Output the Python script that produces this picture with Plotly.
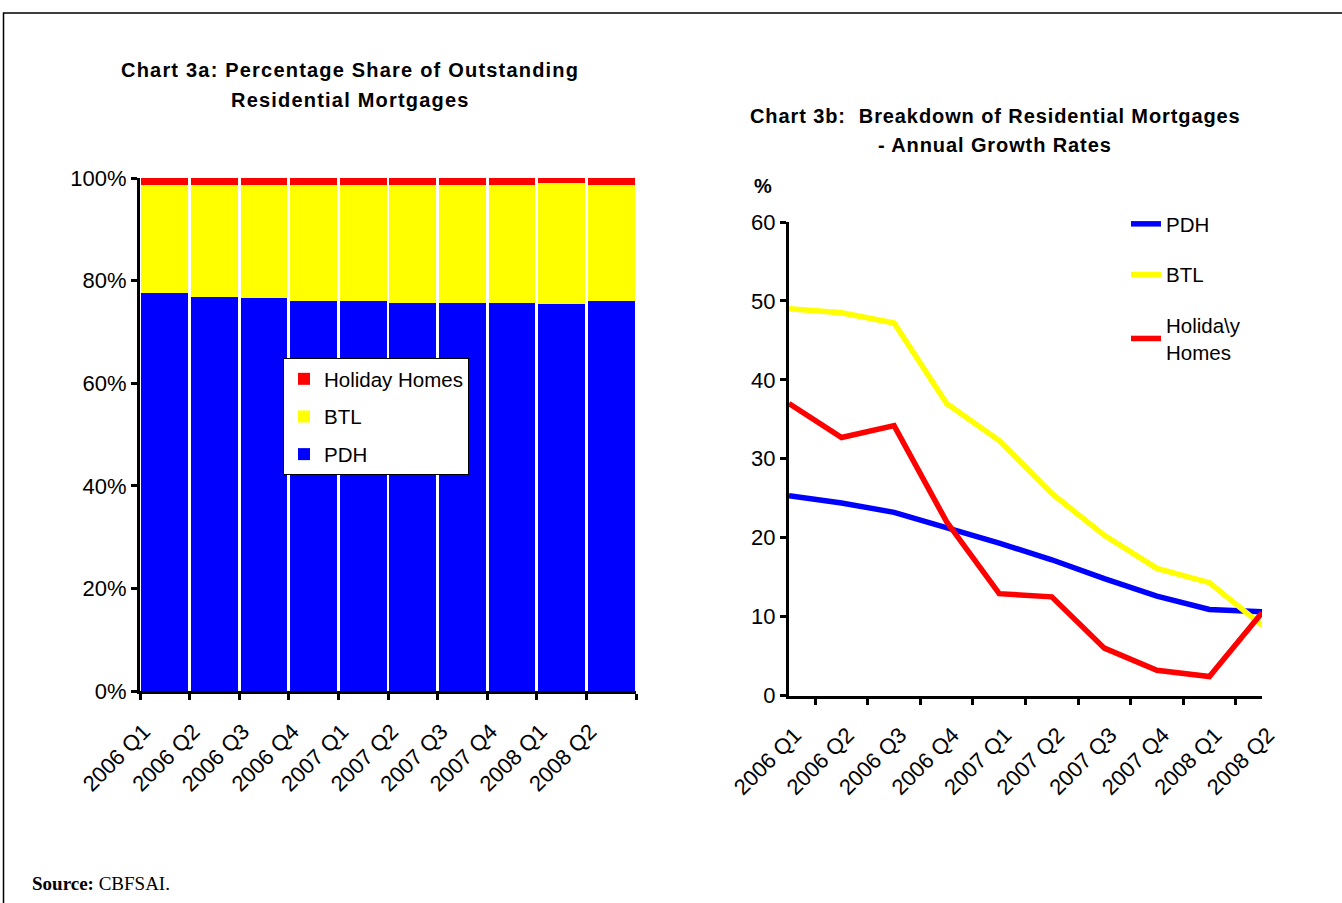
import plotly.graph_objects as go

W, H = 1342, 903

quarters = ["2006 Q1", "2006 Q2", "2006 Q3", "2006 Q4", "2007 Q1",
            "2007 Q2", "2007 Q3", "2007 Q4", "2008 Q1", "2008 Q2"]

# Chart 3a: share of outstanding residential mortgages (%)
share_pdh = [77.6, 76.8, 76.6, 76.0, 76.0, 75.6, 75.6, 75.6, 75.4, 76.0]
share_btl = [21.0, 21.8, 22.0, 22.6, 22.6, 23.0, 23.0, 23.0, 23.6, 22.6]
share_hh = [1.4, 1.4, 1.4, 1.4, 1.4, 1.4, 1.4, 1.4, 1.0, 1.4]
share_ticks = [0, 20, 40, 60, 80, 100]
share_ticktext = ["0%", "20%", "40%", "60%", "80%", "100%"]

# Chart 3b: annual growth rates (%)
growth_pdh = [25.3, 24.4, 23.2, 21.3, 19.3, 17.2, 14.8, 12.6, 10.9, 10.6]
growth_btl = [49.0, 48.5, 47.2, 37.0, 32.3, 25.6, 20.3, 16.1, 14.3, 8.9]
growth_hh = [37.0, 32.7, 34.2, 22.0, 12.9, 12.5, 6.0, 3.2, 2.4, 10.5]

BLUE, YELLOW, RED = "#0000FF", "#FFFF00", "#FF0000"
FONT = "Liberation Sans, Arial, sans-serif"


def px_x(p):
    return p / W


def px_y(p):
    return 1 - p / H


fig = go.Figure()

# stacked bars (left panel); legend lists them top-down
for name, vals, col, rank in [("PDH", share_pdh, BLUE, 3),
                              ("BTL", share_btl, YELLOW, 2),
                              ("Holiday Homes", share_hh, RED, 1)]:
    fig.add_trace(go.Bar(x=quarters, y=vals, name=name, marker_color=col,
                         marker_line_width=0, xaxis="x", yaxis="y",
                         legend="legend", legendgroup=name, legendrank=rank))

# growth lines (right panel)
for name, vals, col in [("PDH", growth_pdh, BLUE),
                        ("BTL", growth_btl, YELLOW),
                        ("Holida\\y<br>Homes", growth_hh, RED)]:
    fig.add_trace(go.Scatter(x=quarters, y=vals, name=name, mode="lines",
                             line=dict(color=col, width=5.5),
                             xaxis="x2", yaxis="y2",
                             legend="legend2", legendgroup="g" + name))

axis_common = dict(showline=True, linecolor="black", linewidth=3,
                   ticks="outside", tickcolor="black", tickwidth=3,
                   ticklen=6, showgrid=False, zeroline=False,
                   automargin=False,
                   tickfont=dict(family=FONT, size=22, color="black"))

fig.update_layout(
    template="none",
    width=W, height=H,
    margin=dict(l=0, r=0, t=0, b=0, pad=0, autoexpand=False),
    paper_bgcolor="white", plot_bgcolor="white",
    barmode="stack", bargap=0.06,
    font=dict(family=FONT, color="black"),
    xaxis=dict(domain=[px_x(140), px_x(636)], anchor="y",
               type="category", tickson="boundaries", tickangle=-45,
               ticklabelshift=-21, ticklabelstandoff=16, **axis_common),
    yaxis=dict(domain=[px_y(691), px_y(178)], anchor="x",
               range=[0, 100], tickvals=share_ticks, ticktext=share_ticktext,
               **axis_common),
    xaxis2=dict(domain=[px_x(789), px_x(1262)], anchor="y2",
                type="category", tickson="boundaries", tickangle=-45,
                ticklabelshift=6, ticklabelstandoff=15, **axis_common),
    yaxis2=dict(domain=[px_y(695.5), px_y(222)], anchor="x2",
                range=[0, 60], dtick=10, **axis_common),
    legend=dict(x=px_x(283), y=px_y(358), xanchor="left", yanchor="top",
                bgcolor="white", bordercolor="black", borderwidth=1,
                traceorder="grouped", tracegroupgap=8,
                font=dict(family=FONT, size=20.5)),
    legend2=dict(x=px_x(1126), y=px_y(204), xanchor="left", yanchor="top",
                 bgcolor="rgba(0,0,0,0)", borderwidth=0,
                 traceorder="grouped", tracegroupgap=21,
                 font=dict(family=FONT, size=20.5)),
    showlegend=True,
)

TITLE_A = "<span style='letter-spacing:1.2px'><b>%s</b></span>"
TITLE_B = "<span style='letter-spacing:0.9px'><b>%s</b></span>"
annotations = [
    dict(x=px_x(350), y=px_y(70),
         text=TITLE_A % "Chart 3a: Percentage Share of Outstanding",
         font=dict(family=FONT, size=20)),
    dict(x=px_x(350), y=px_y(100),
         text=TITLE_A % "Residential Mortgages",
         font=dict(family=FONT, size=20)),
    dict(x=px_x(748), y=px_y(116), xanchor="left",
         text=TITLE_B % "Chart 3b:  Breakdown of Residential Mortgages",
         font=dict(family=FONT, size=20)),
    dict(x=px_x(995), y=px_y(145),
         text=TITLE_B % "- Annual Growth Rates",
         font=dict(family=FONT, size=20)),
    dict(x=px_x(763), y=px_y(186), text="<b>%</b>", font=dict(family=FONT, size=20)),
    dict(x=px_x(30), y=px_y(883), xanchor="left",
         text="<b>Source:</b> CBFSAI.",
         font=dict(family="Liberation Serif, Times New Roman, serif", size=19)),
]
for a in annotations:
    a.setdefault("xref", "paper")
    a.setdefault("yref", "paper")
    a.setdefault("showarrow", False)
    a.setdefault("xanchor", "center")
    a.setdefault("yanchor", "middle")
fig.update_layout(annotations=annotations)

# outer frame
fig.add_shape(type="rect", xref="paper", yref="paper",
              x0=px_x(3.5), x1=px_x(1360), y0=px_y(920), y1=px_y(13),
              line=dict(color="black", width=1.5), fillcolor="rgba(0,0,0,0)")

fig.write_html("out.html")
